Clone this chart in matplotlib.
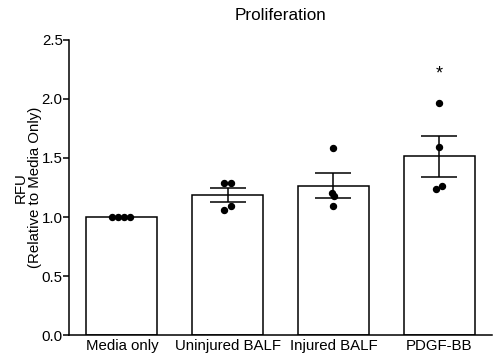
import numpy as np
import matplotlib.pyplot as plt

plt.rcParams['font.family'] = ['Liberation Sans', 'DejaVu Sans']

# data
groups = ['Media only', 'Uninjured BALF', 'Injured BALF', 'PDGF-BB']
means = [1.0, 1.184, 1.265, 1.514]
sems = [0.0, 0.061, 0.107, 0.172]
points = [
    [1.0, 1.0, 1.0, 1.0],
    [1.286, 1.286, 1.059, 1.096],
    [1.585, 1.206, 1.181, 1.093],
    [1.966, 1.596, 1.237, 1.263],
]
offsets = [
    [-0.09, -0.036, 0.017, 0.08],
    [-0.033, 0.03, -0.033, 0.03],
    [0.0, -0.01, 0.01, 0.0],
    [0.0, 0.0, -0.03, 0.03],
]
sig_marks = ['', '', '', '*']
sig_y = 2.21

fig = plt.figure(figsize=(4.96, 3.63), dpi=100)
ax = fig.add_axes([0.139, 0.077, 0.853, 0.813])

x = np.arange(len(groups))
ax.bar(x, means, width=0.67, color='white', edgecolor='black', linewidth=1.1, zorder=1)
ax.errorbar(x[1:], means[1:], yerr=sems[1:], fmt='none', ecolor='black',
            elinewidth=1.1, capsize=13, capthick=1.1, zorder=3)
for i in range(len(groups)):
    ax.plot(x[i] + np.array(offsets[i]), points[i], 'o', color='black',
            ms=4.3, ls='', zorder=4)
    if sig_marks[i]:
        ax.text(x[i], sig_y, sig_marks[i], ha='center', va='center', fontsize=13)

ax.set_xlim(-0.5, 3.5)
ax.set_ylim(0, 2.5)
ax.set_yticks([0, 0.5, 1.0, 1.5, 2.0, 2.5])
ax.set_yticklabels(['0.0', '0.5', '1.0', '1.5', '2.0', '2.5'])
ax.set_xticks(x)
ax.set_xticklabels(groups)
ax.tick_params(axis='x', length=0, pad=3, labelsize=10.8)
ax.tick_params(axis='y', length=4, width=1.1, pad=0.5, labelsize=10.8)
ax.spines['top'].set_visible(False)
ax.spines['right'].set_visible(False)
ax.spines['left'].set_linewidth(1.1)
ax.spines['bottom'].set_linewidth(1.1)
ax.set_ylabel('RFU\n(Relative to Media Only)', fontsize=10.8, labelpad=-0.5,
              linespacing=1.05)
fig.text(0.566, 0.958, 'Proliferation', ha='center', va='center', fontsize=12.3)

fig.savefig('out.png', dpi=100)
